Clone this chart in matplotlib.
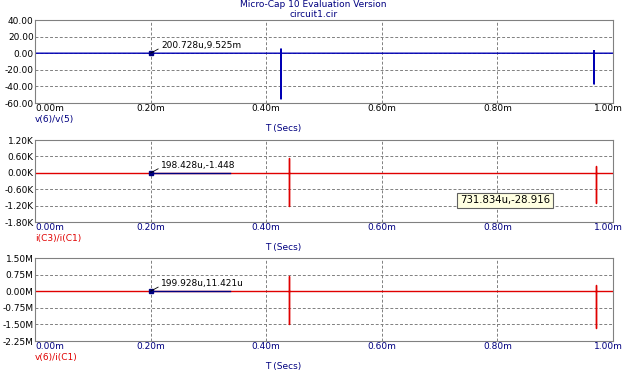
import matplotlib.pyplot as plt
from matplotlib.transforms import ScaledTranslation

# ---- data (time in ms) ----
T1 = [0.0, 0.4256, 0.4256, 0.4256, 0.4256, 0.9670, 0.9670, 0.9672, 0.9672, 0.9672, 0.9672, 1.0]
V1 = [0.0, 0.0, 5.0, -55.0, 0.0, 0.0, 3.0, -27.0, 3.0, -37.0, 0.0, 0.0]
T2 = [0.0, 0.4394, 0.4394, 0.4394, 0.4394, 0.9710, 0.9710, 0.9710, 0.9710, 1.0]
V2 = [0.0, 0.0, 0.55, -1.22, 0.0, 0.0, 0.25, -1.10, 0.0, 0.0]     # K
T3 = [0.0, 0.4394, 0.4394, 0.4394, 0.4394, 0.9710, 0.9710, 0.9710, 0.9710, 1.0]
V3 = [0.0, 0.0, 0.70, -1.46, 0.0, 0.0, 0.26, -1.64, 0.0, 0.0]     # M

X_TICKS = [0.0, 0.2, 0.4, 0.6, 0.8, 1.0]
X_LABELS = ['0.00m', '0.20m', '0.40m', '0.60m', '0.80m', '1.00m']
Y1_TICKS = [40, 20, 0, -20, -40, -60]
Y1_LABELS = ['40.00', '20.00', '0.00', '-20.00', '-40.00', '-60.00']
Y2_TICKS = [1.2, 0.6, 0.0, -0.6, -1.2, -1.8]
Y2_LABELS = ['1.20K', '0.60K', '0.00K', '-0.60K', '-1.20K', '-1.80K']
Y3_TICKS = [1.5, 0.75, 0.0, -0.75, -1.5, -2.25]
Y3_LABELS = ['1.50M', '0.75M', '0.00M', '-0.75M', '-1.50M', '-2.25M']

NAVY = '#000080'
BLUE = '#0000B4'
RED = '#E00000'
GRAY = '#808080'

fig = plt.figure(figsize=(6.24, 3.72), dpi=100)
fig.patch.set_facecolor('white')

fig.text(0.502, 0.987, 'Micro-Cap 10 Evaluation Version', ha='center', va='center',
         fontsize=6.5, color=NAVY)
fig.text(0.502, 0.960, 'circuit1.cir', ha='center', va='center', fontsize=6.5, color=NAVY)

panels = [
    # rect, t, v, color, ticks, labels, trace name, name color, xlabel color, cursor text
    ([0.0561, 0.7231, 0.9263, 0.2231], T1, V1, BLUE, Y1_TICKS, Y1_LABELS, 'v(6)/v(5)', NAVY,
     'black', '200.728u,9.525m'),
    ([0.0561, 0.4032, 0.9263, 0.2204], T2, V2, RED, Y2_TICKS, Y2_LABELS, 'i(C3)/i(C1)', RED,
     NAVY, '198.428u,-1.448'),
    ([0.0561, 0.0833, 0.9263, 0.2231], T3, V3, RED, Y3_TICKS, Y3_LABELS, 'v(6)/i(C1)', RED,
     NAVY, '199.928u,11.421u'),
]

axes = []
for rect, t, v, col, yt, yl, name, name_col, xcol, cur in panels:
    ax = fig.add_axes(rect)
    axes.append(ax)
    ax.plot(t, v, color=col, lw=1.0)
    ax.set_xlim(0, 1.0)
    ax.set_ylim(yt[-1], yt[0])
    ax.set_xticks(X_TICKS)
    ax.set_xticklabels(X_LABELS, fontsize=6.5, color=xcol)
    ax.set_yticks(yt)
    ax.set_yticklabels(yl, fontsize=6.5)
    ax.tick_params(length=0, pad=1)
    first, last = ax.get_xticklabels()[0], ax.get_xticklabels()[-1]
    first.set_horizontalalignment('left')
    last.set_horizontalalignment('right')
    last.set_transform(last.get_transform() + ScaledTranslation(0.10, 0, fig.dpi_scale_trans))
    ax.grid(True, color=GRAY, ls=(0, (3, 2)), lw=0.7)
    for s in ax.spines.values():
        s.set_color(GRAY)
        s.set_linewidth(0.8)
    # trace name and axis title
    ax.text(0.0, -0.20, name, transform=ax.transAxes, fontsize=6.5, color=name_col,
            ha='left', va='center')
    ax.text(0.43, -0.31, 'T (Secs)', transform=ax.transAxes, fontsize=6.5, color=NAVY,
            ha='center', va='center')
    # cursor marker
    if col == RED:
        ax.plot([0.2, 0.337], [0, 0], color=NAVY, lw=1.0)
    ax.plot([0.2], [0], marker='s', ms=2.5, color=NAVY)
    dy = (yt[0] - yt[-1]) * 0.09
    ax.annotate(cur, xy=(0.2, 0), xytext=(0.218, dy), fontsize=6.5, color='black',
                va='center', ha='left',
                arrowprops=dict(arrowstyle='-', color='black', lw=0.6,
                                shrinkA=0, shrinkB=0, relpos=(0, 0.3)))

# hover tooltip
axes[1].text(0.735, -1.0, '731.834u,-28.916', fontsize=7.3, color='black',
             ha='left', va='center',
             bbox=dict(boxstyle='square,pad=0.25', fc='#FFFFE1', ec='#606060', lw=0.8))

fig.savefig('out.png', dpi=100)
